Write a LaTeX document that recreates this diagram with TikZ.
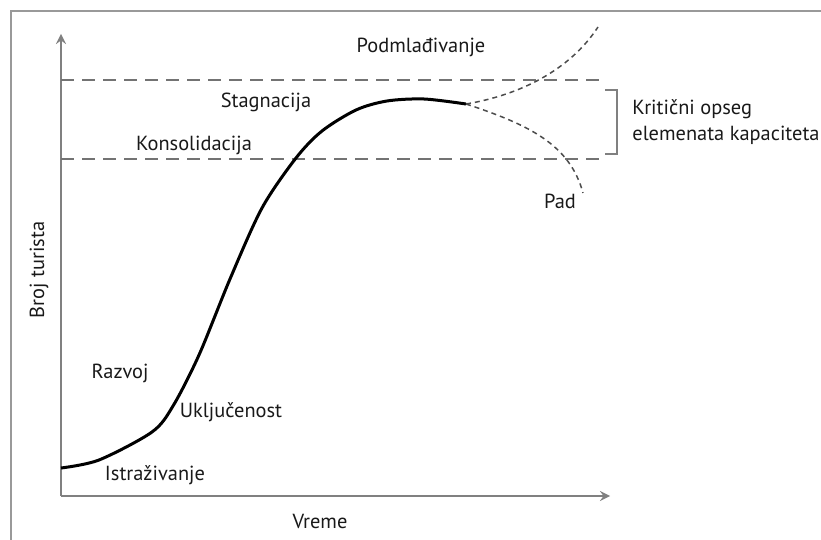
\documentclass[tikz,border=0pt]{standalone}
\usepackage{fontspec}
\setmainfont{PT Sans}
\usetikzlibrary{arrows}

\begin{document}
\begin{tikzpicture}[x=0.5pt,y=-0.5pt,
    axis/.style={draw=gray, line width=1.2pt, -stealth},
    limit/.style={draw=black!55, line width=1.2pt, dash pattern=on 6.5pt off 4pt},
    branch/.style={draw=black!70, line width=0.75pt, dash pattern=on 2.5pt off 2pt},
    lbl/.style={text=black!90, font=\fontsize{10.2}{12}\selectfont, inner sep=0pt}]

        \useasboundingbox (0,0) rectangle (821,540);

        %%% frame %%%
        \draw[gray!80, line width=0.6pt] (11,540) -- (11,11) -- (821,11);

        %%% axes %%%
        \coordinate (o) at (61,496);
        \coordinate (ytop) at (61,34);
        \coordinate (xend) at (610,496);
        \draw[axis] (o) -- (ytop);
        \draw[axis] (o) -- (xend);
        \node[lbl, rotate=90] (yl) at (39,270) {Broj turista};
        \node[lbl] (xl) at (320,521) {Vreme};

        %%% critical range %%%
        \coordinate (hi) at (61,80);   \coordinate (hiend) at (602,80);
        \coordinate (lo) at (61,159);  \coordinate (loend) at (602,159);
        \draw[limit] (hi) -- (hiend);
        \draw[limit] (lo) -- (loend);
        \draw[gray, line width=0.9pt] (605,90) -- (617,90) -- (617,154) -- (605,154);
        \node[lbl, anchor=west, align=left] (krit) at (632,122)
          {Kritični opseg\\[1pt]elemenata kapaciteta};

        %%% life cycle curve %%%
        \draw[line width=1.5pt, black] plot[smooth, tension=0.5] coordinates {
          (61,468) (99,460) (152,432) (173,406) (199,355) (230,279)
          (262,208) (296,158) (322,131) (356,110) (387,101) (424,99) (466,104)};
        \coordinate (end) at (466,104);
        \draw[branch] (end) .. controls (520,95) and (570,70) .. (598,27);
        \draw[branch] (end) .. controls (530,125) and (570,145) .. (583,193);

        %%% stages %%%
        \node[lbl] (podml) at (421,47) {Podmlađivanje};
        \node[lbl] (stag) at (266,102) {Stagnacija};
        \node[lbl] (kons) at (194,145) {Konsolidacija};
        \node[lbl] (pad) at (560,201) {Pad};
        \node[lbl] (razv) at (120,373) {Razvoj};
        \node[lbl] (uklj) at (231,412) {Uključenost};
        \node[lbl] (istr) at (155,475) {Istraživanje};

\end{tikzpicture}
\end{document}
